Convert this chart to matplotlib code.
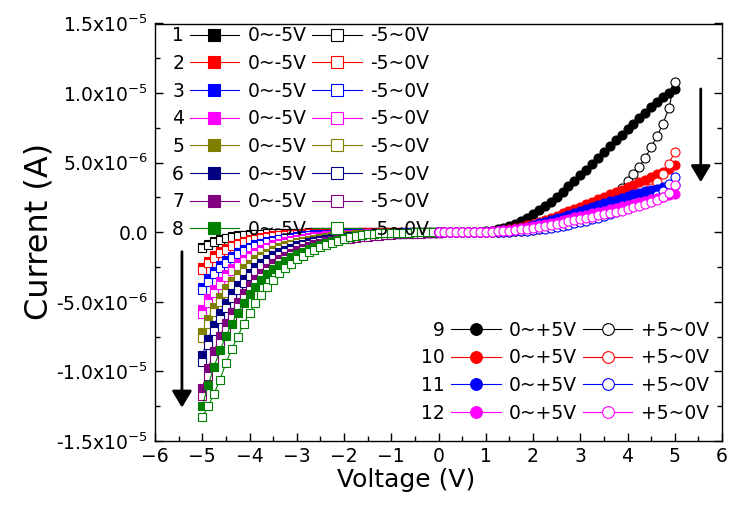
"""
I-V sweeps: 8 negative-bias sweeps (squares) and 4 positive-bias sweeps (circles),
forward sweep filled markers, return sweep open markers.
"""

import matplotlib
matplotlib.use("Agg")
import matplotlib.pyplot as plt
import numpy as np
from matplotlib import font_manager
from matplotlib.lines import Line2D
from matplotlib.ticker import MultipleLocator

# sweep grids (0.125 V step)
V_NEG = np.linspace(-5.0, 0.0, 41)   # index 0 -> -5 V
V_POS = np.linspace(0.0, 5.0, 41)    # index 0 ->  0 V

NEG_COLORS = ["#000000", "#ff0000", "#0000ff", "#ff00ff",
              "#808000", "#000080", "#800080", "#008000"]
POS_COLORS = ["#000000", "#ff0000", "#0000ff", "#ff00ff"]

NEG_IDS = ["1", "2", "3", "4", "5", "6", "7", "8"]
POS_IDS = ["9", "10", "11", "12"]

# |I| in uA for the negative side (index 0 = -5 V)
NEG_FWD = [
    [1.05, 0.82, 0.64, 0.50, 0.39, 0.30, 0.23, 0.18, 0.14, 0.11, 0.09, 0.07, 0.05, 0.04,
     0.03, 0.02, 0.02, 0.02, 0.01, 0.01] + [0.0] * 21,
    [2.50, 2.04, 1.67, 1.37, 1.12, 0.91, 0.75, 0.61, 0.50, 0.41, 0.33, 0.27, 0.22, 0.18,
     0.15, 0.12, 0.10, 0.08, 0.07, 0.05, 0.04, 0.04, 0.03, 0.02, 0.02, 0.02, 0.01, 0.01] + [0.0] * 13,
    [3.90, 3.30, 2.80, 2.37, 2.00, 1.70, 1.44, 1.22, 1.03, 0.87, 0.74, 0.62, 0.53, 0.45,
     0.38, 0.32, 0.27, 0.23, 0.19, 0.16, 0.14, 0.12, 0.10, 0.08, 0.07, 0.06, 0.05, 0.04,
     0.04, 0.03, 0.03, 0.02, 0.02, 0.02, 0.01, 0.01] + [0.0] * 5,
    [5.50, 4.72, 4.05, 3.48, 2.99, 2.57, 2.20, 1.89, 1.62, 1.39, 1.20, 1.03, 0.88, 0.76,
     0.65, 0.56, 0.48, 0.41, 0.35, 0.30, 0.26, 0.22, 0.19, 0.17, 0.14, 0.12, 0.10, 0.09,
     0.08, 0.07, 0.06, 0.05, 0.04, 0.04, 0.03, 0.03, 0.02, 0.02, 0.02, 0.01, 0.01],
    [7.20, 6.23, 5.38, 4.66, 4.03, 3.48, 3.01, 2.60, 2.25, 1.95, 1.68, 1.46, 1.26, 1.09,
     0.94, 0.81, 0.70, 0.61, 0.53, 0.46, 0.39, 0.34, 0.29, 0.25, 0.22, 0.19, 0.16, 0.14,
     0.12, 0.11, 0.09, 0.08, 0.07, 0.06, 0.05, 0.04, 0.04, 0.03, 0.03, 0.03, 0.02],
    [8.80, 7.66, 6.67, 5.80, 5.05, 4.39, 3.82, 3.33, 2.90, 2.52, 2.19, 1.91, 1.66, 1.45,
     1.26, 1.10, 0.95, 0.83, 0.72, 0.63, 0.55, 0.48, 0.41, 0.36, 0.31, 0.27, 0.24, 0.21,
     0.18, 0.16, 0.14, 0.12, 0.10, 0.09, 0.08, 0.07, 0.06, 0.05, 0.05, 0.04, 0.03],
    [11.20, 9.79, 8.56, 7.48, 6.54, 5.72, 5.00, 4.37, 3.82, 3.34, 2.92, 2.55, 2.23, 1.95,
     1.70, 1.49, 1.30, 1.14, 1.00, 0.87, 0.76, 0.66, 0.58, 0.51, 0.44, 0.39, 0.34, 0.30,
     0.26, 0.23, 0.20, 0.17, 0.15, 0.13, 0.12, 0.10, 0.09, 0.08, 0.07, 0.06, 0.05],
    [12.50, 10.99, 9.66, 8.49, 7.46, 6.56, 5.77, 5.07, 4.45, 3.92, 3.44, 3.03, 2.66, 2.34,
     2.05, 1.81, 1.59, 1.40, 1.23, 1.08, 0.95, 0.80, 0.66, 0.54, 0.42, 0.33, 0.25, 0.18,
     0.13, 0.09, 0.07, 0.05, 0.04, 0.03, 0.02, 0.02, 0.01, 0.01, 0.0, 0.0, 0.0],
]
NEG_REV = [
    [1.15, 0.90, 0.71, 0.56, 0.44, 0.35, 0.27, 0.21, 0.17, 0.13, 0.10, 0.08, 0.06, 0.05,
     0.04, 0.03, 0.02, 0.02, 0.02, 0.01, 0.01] + [0.0] * 20,
    [2.70, 2.22, 1.83, 1.50, 1.24, 1.02, 0.84, 0.69, 0.57, 0.47, 0.38, 0.31, 0.26, 0.21,
     0.18, 0.14, 0.12, 0.10, 0.08, 0.07, 0.05, 0.04, 0.04, 0.03, 0.02, 0.02, 0.02, 0.01,
     0.01] + [0.0] * 12,
    [4.15, 3.54, 3.01, 2.57, 2.19, 1.86, 1.59, 1.35, 1.15, 0.98, 0.84, 0.71, 0.61, 0.52,
     0.44, 0.38, 0.32, 0.27, 0.23, 0.20, 0.17, 0.14, 0.12, 0.10, 0.09, 0.08, 0.07, 0.05,
     0.05, 0.04, 0.03, 0.03, 0.02, 0.02, 0.02, 0.02, 0.01, 0.01, 0.01, 0.01, 0.01],
    [5.85, 5.05, 4.36, 3.76, 3.25, 2.80, 2.42, 2.09, 1.80, 1.56, 1.34, 1.16, 1.00, 0.86,
     0.75, 0.64, 0.56, 0.48, 0.41, 0.36, 0.31, 0.27, 0.23, 0.20, 0.17, 0.15, 0.13, 0.11,
     0.09, 0.08, 0.07, 0.06, 0.05, 0.04, 0.04, 0.03, 0.03, 0.02, 0.02, 0.02, 0.02],
    [7.60, 6.60, 5.74, 4.99, 4.33, 3.77, 3.27, 2.84, 2.47, 2.15, 1.87, 1.62, 1.41, 1.23,
     1.06, 0.93, 0.80, 0.70, 0.61, 0.53, 0.46, 0.40, 0.35, 0.30, 0.26, 0.23, 0.20, 0.17,
     0.15, 0.13, 0.11, 0.10, 0.09, 0.07, 0.07, 0.06, 0.05, 0.04, 0.04, 0.03, 0.03],
    [9.30, 8.13, 7.11, 6.21, 5.43, 4.75, 4.15, 3.63, 3.17, 2.77, 2.42, 2.12, 1.85, 1.62,
     1.42, 1.24, 1.08, 0.95, 0.83, 0.72, 0.63, 0.55, 0.48, 0.42, 0.37, 0.32, 0.28, 0.25,
     0.22, 0.19, 0.17, 0.14, 0.13, 0.11, 0.10, 0.08, 0.07, 0.06, 0.06, 0.05, 0.04],
    [11.80, 10.36, 9.09, 7.98, 7.01, 6.15, 5.40, 4.74, 4.16, 3.66, 3.21, 2.82, 2.47, 2.17,
     1.91, 1.67, 1.47, 1.29, 1.13, 0.99, 0.87, 0.77, 0.67, 0.59, 0.52, 0.46, 0.40, 0.35,
     0.31, 0.27, 0.24, 0.21, 0.18, 0.16, 0.14, 0.12, 0.11, 0.10, 0.08, 0.07, 0.07],
    [13.30, 12.50, 11.60, 10.60, 9.40, 8.40, 7.50, 6.60, 5.80, 5.10, 4.50, 3.90, 3.40, 2.95,
     2.60, 2.25, 1.95, 1.70, 1.45, 1.25, 1.08, 0.90, 0.75, 0.60, 0.45, 0.35, 0.26, 0.19,
     0.14, 0.10, 0.07, 0.05, 0.04, 0.03, 0.02, 0.02, 0.01, 0.01, 0.0, 0.0, 0.0],
]

# I in uA for the positive side (index 0 = 0 V)
POS_FWD = [
    [0.0, 0.0, 0.0, 0.01, 0.01, 0.02, 0.03, 0.05, 0.08, 0.12, 0.20, 0.30, 0.45, 0.62,
     0.82, 1.05, 1.30, 1.58, 1.88, 2.20, 2.55, 2.92, 3.30, 3.70, 4.10, 4.50, 4.90, 5.30,
     5.75, 6.20, 6.60, 7.00, 7.40, 7.80, 8.20, 8.60, 9.00, 9.35, 9.70, 10.00, 10.30],
    [0.0, 0.0, 0.0, 0.0, 0.01, 0.01, 0.02, 0.03, 0.05, 0.07, 0.10, 0.15, 0.21, 0.29,
     0.38, 0.49, 0.61, 0.75, 0.90, 1.05, 1.20, 1.37, 1.54, 1.70, 1.85, 2.02, 2.20, 2.37,
     2.55, 2.72, 2.90, 3.07, 3.25, 3.42, 3.60, 3.77, 3.95, 4.15, 4.35, 4.57, 4.80],
    [0.0, 0.0, 0.0, 0.0, 0.01, 0.01, 0.02, 0.03, 0.04, 0.06, 0.09, 0.13, 0.18, 0.24,
     0.31, 0.41, 0.52, 0.63, 0.75, 0.87, 1.00, 1.13, 1.27, 1.41, 1.55, 1.69, 1.83, 1.96,
     2.09, 2.22, 2.35, 2.48, 2.60, 2.72, 2.83, 2.94, 3.04, 3.14, 3.24, 3.33, 3.42],
    [0.0, 0.0, 0.0, 0.0, 0.01, 0.01, 0.02, 0.03, 0.05, 0.07, 0.10, 0.13, 0.17, 0.22,
     0.28, 0.35, 0.42, 0.50, 0.58, 0.67, 0.76, 0.86, 0.96, 1.06, 1.16, 1.26, 1.36, 1.46,
     1.56, 1.66, 1.76, 1.86, 1.96, 2.06, 2.16, 2.26, 2.36, 2.46, 2.56, 2.66, 2.76],
]
POS_REV = [
    [0.0, 0.0, 0.0, 0.0, 0.0, 0.0, 0.01, 0.01, 0.02, 0.03, 0.04, 0.06, 0.08, 0.11,
     0.15, 0.19, 0.25, 0.32, 0.40, 0.49, 0.60, 0.72, 0.86, 1.02, 1.20, 1.40, 1.62, 1.88,
     2.15, 2.45, 2.80, 3.20, 3.65, 4.15, 4.70, 5.35, 6.10, 6.90, 7.80, 8.90, 10.80],
    [0.0, 0.0, 0.0, 0.0, 0.0, 0.0, 0.0, 0.01, 0.01, 0.02, 0.03, 0.04, 0.05, 0.07,
     0.10, 0.13, 0.17, 0.22, 0.28, 0.35, 0.43, 0.52, 0.62, 0.73, 0.85, 0.97, 1.10, 1.25,
     1.41, 1.58, 1.76, 1.95, 2.15, 2.38, 2.62, 2.90, 3.20, 3.60, 4.15, 4.90, 5.80],
    [0.0, 0.0, 0.0, 0.0, 0.0, 0.0, 0.0, 0.01, 0.01, 0.02, 0.03, 0.04, 0.05, 0.07,
     0.09, 0.12, 0.16, 0.20, 0.25, 0.31, 0.38, 0.46, 0.54, 0.63, 0.73, 0.83, 0.94, 1.05,
     1.17, 1.30, 1.44, 1.58, 1.73, 1.89, 2.06, 2.25, 2.45, 2.70, 3.00, 3.45, 4.00],
    [0.0, 0.0, 0.0, 0.0, 0.01, 0.01, 0.02, 0.03, 0.04, 0.05, 0.07, 0.09, 0.12, 0.16,
     0.21, 0.26, 0.32, 0.39, 0.46, 0.53, 0.61, 0.70, 0.79, 0.87, 0.95, 1.03, 1.12, 1.21,
     1.30, 1.38, 1.47, 1.56, 1.66, 1.78, 1.90, 2.02, 2.15, 2.30, 2.50, 2.85, 3.40],
]

Y_TICKS = [-1.5e-5, -1.0e-5, -5.0e-6, 0.0, 5.0e-6, 1.0e-5, 1.5e-5]
Y_TICK_LABELS = ["-1.5x10$^{-5}$", "-1.0x10$^{-5}$", "-5.0x10$^{-6}$", "0.0",
                 "5.0x10$^{-6}$", "1.0x10$^{-5}$", "1.5x10$^{-5}$"]

# arrow annotations: (x, y_start, y_end)
ARROW_NEG = (-5.43, -1.4e-6, -12.6e-6)
ARROW_POS = (5.55, 10.3e-6, 3.6e-6)


def make_plot():
    fig = plt.figure(figsize=(7.29, 5.2), dpi=100)
    ax = fig.add_axes([155 / 729, 1 - 441 / 520, 567 / 729, 417.5 / 520])

    neg_f, neg_r = [], []
    for k, c in enumerate(NEG_COLORS):
        f, = ax.plot(V_NEG, -np.array(NEG_FWD[k]) * 1e-6, "-s", color=c, lw=0.8,
                     ms=6, mec=c, mew=0.8)
        r, = ax.plot(V_NEG, -np.array(NEG_REV[k]) * 1e-6, "-s", color=c, lw=0.8,
                     ms=6, mfc="white", mec=c, mew=0.8)
        neg_f.append(f)
        neg_r.append(r)

    pos_f, pos_r = [], []
    for k, c in enumerate(POS_COLORS):
        f, = ax.plot(V_POS, np.array(POS_FWD[k]) * 1e-6, "-o", color=c, lw=0.8,
                     ms=6.5, mec=c, mew=0.8)
        r, = ax.plot(V_POS, np.array(POS_REV[k]) * 1e-6, "-o", color=c, lw=0.8,
                     ms=6.5, mfc="white", mec=c, mew=0.8)
        pos_f.append(f)
        pos_r.append(r)

    blank = Line2D([], [], linestyle="none")
    leg_kw = dict(ncol=3, markerfirst=False, frameon=False, fontsize=13.5,
                  handlelength=2.65, handletextpad=0.3, columnspacing=0.45,
                  labelspacing=0.46, borderpad=0, borderaxespad=0, numpoints=1,
                  loc="upper left")

    n = len(NEG_IDS)
    leg1 = ax.legend(neg_f + neg_r + [blank] * n,
                     NEG_IDS + ["0~-5V"] * n + ["-5~0V"] * n,
                     bbox_to_anchor=(0.03, 0.993), markerscale=1.4, **leg_kw)
    ax.add_artist(leg1)

    n = len(POS_IDS)
    ax.legend(pos_f + pos_r + [blank] * n,
              POS_IDS + ["0~+5V"] * n + ["+5~0V"] * n,
              bbox_to_anchor=(0.47, 0.288), markerscale=1.3, **leg_kw)

    for x, y0, y1 in (ARROW_NEG, ARROW_POS):
        ax.annotate("", xy=(x, y1), xytext=(x, y0),
                    arrowprops=dict(arrowstyle="-|>,head_length=1.0,head_width=0.6",
                                    mutation_scale=10, lw=2, color="black",
                                    shrinkA=0, shrinkB=0))

    ax.set_xlim(-6, 6)
    ax.set_ylim(-1.5e-5, 1.5e-5)
    ax.set_xticks(range(-6, 7))
    ax.xaxis.set_minor_locator(MultipleLocator(0.5))
    ax.set_yticks(Y_TICKS)
    ax.set_yticklabels(Y_TICK_LABELS)
    ax.yaxis.set_minor_locator(MultipleLocator(2.5e-6))
    ax.tick_params(which="both", direction="in", right=True, top=False, width=1)
    ax.tick_params(which="major", length=6)
    ax.tick_params(which="minor", length=3.5)
    ax.tick_params(axis="x", labelsize=13.5, pad=4)
    ax.tick_params(axis="y", labelsize=13.5, pad=5)
    for s in ax.spines.values():
        s.set_linewidth(1.0)

    ax.set_xlabel("Voltage (V)", fontsize=18)
    ax.xaxis.label.set_va("baseline")
    ax.xaxis.set_label_coords(0.443, -0.11)

    names = {f.name for f in font_manager.fontManager.ttflist}
    if "Liberation Sans Narrow" in names:
        ax.set_ylabel("Current (A)", fontsize=31, family="Liberation Sans Narrow")
    else:
        ax.set_ylabel("Current (A)", fontsize=23)
    ax.yaxis.label.set_va("baseline")
    ax.yaxis.set_label_coords(-0.19, 0.502)

    fig.savefig("out.png", dpi=100)


if __name__ == "__main__":
    make_plot()
